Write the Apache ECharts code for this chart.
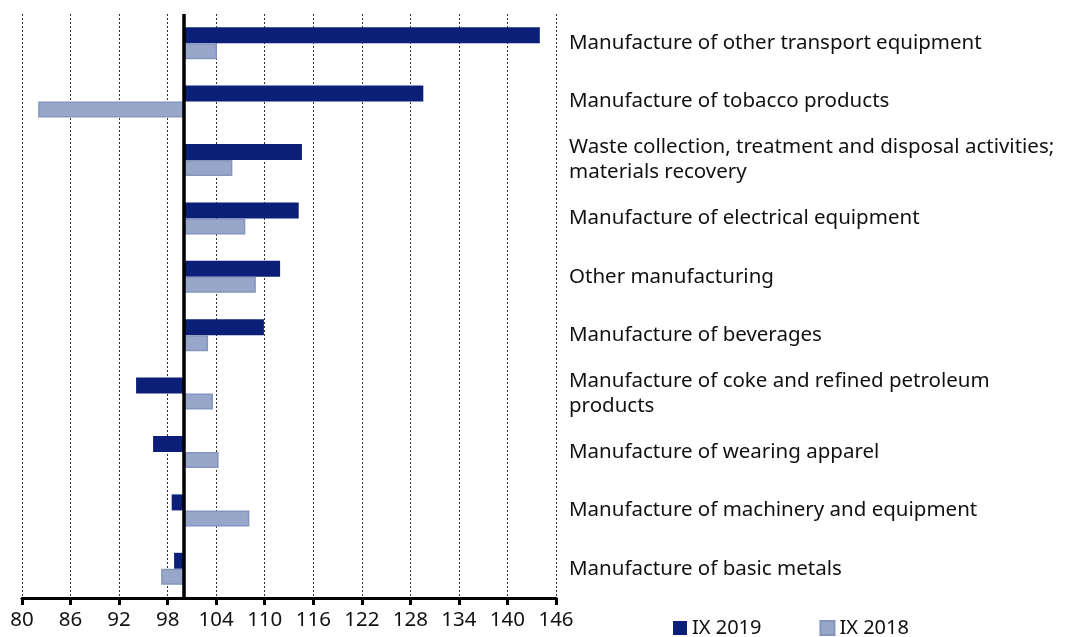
<!DOCTYPE html>
<html><head><meta charset="utf-8">
<script src="https://cdn.jsdelivr.net/npm/echarts@6/dist/echarts.min.js"></script>
<style>html,body{margin:0;padding:0;background:#fff}#c{width:1069px;height:637px}</style>
</head><body><div id="c"></div>
<script>
var categories = [
  "Manufacture of other transport equipment",
  "Manufacture of tobacco products",
  "Waste collection, treatment and disposal activities;\nmaterials recovery",
  "Manufacture of electrical equipment",
  "Other manufacturing",
  "Manufacture of beverages",
  "Manufacture of coke and refined petroleum\nproducts",
  "Manufacture of wearing apparel",
  "Manufacture of machinery and equipment",
  "Manufacture of basic metals"
];
var ix2019 = [144.0, 129.6, 114.6, 114.2, 111.9, 109.9, 94.1, 96.2, 98.5, 98.8];
var ix2018 = [104.1, 82.0, 106.0, 107.6, 108.9, 103.0, 103.6, 104.3, 108.1, 97.2];
var baseValue = 100;
var axisMin = 80, axisMax = 146, axisStep = 6;

var FONT = "Noto Sans";
var chart = echarts.init(document.getElementById('c'), null, {renderer: 'canvas'});
function dev(arr){ return arr.map(function(v){ return +(v - baseValue).toFixed(2); }); }
chart.setOption({
  animation: false,
  textStyle: {fontFamily: FONT},
  grid: {left: 22, right: 1069 - 556, top: 14, bottom: 637 - 598, containLabel: false},
  legend: {
    top: 613, left: 668, itemWidth: 14, itemHeight: 14, itemGap: 58, icon: 'rect',
    textStyle: {fontSize: 20, color: '#111', fontFamily: FONT},
    data: ['IX 2019', 'IX 2018']
  },
  xAxis: {
    type: 'value', min: axisMin - baseValue, max: axisMax - baseValue, interval: axisStep,
    axisLine: {show: true, onZero: false, lineStyle: {color: '#000', width: 3}},
    axisTick: {show: true, length: 7, lineStyle: {color: '#000', width: 3}},
    axisLabel: {fontSize: 20.5, color: '#111', margin: 12, fontFamily: FONT,
      formatter: function(v){ return String(Math.round(v + baseValue)); }},
    splitLine: {show: true, lineStyle: {color: '#333', type: [2, 2], width: 1}}
  },
  yAxis: {
    type: 'category', data: categories, inverse: true, position: 'right',
    axisLine: {show: false, onZero: false}, axisTick: {show: false},
    axisLabel: {align: 'left', margin: 13, fontSize: 20.5, lineHeight: 25, color: '#111', fontFamily: FONT}
  },
  series: [
    {name: 'IX 2019', type: 'bar', data: dev(ix2019), barWidth: 16, barGap: '0%',
     itemStyle: {color: '#0b1f78'},
     markLine: {symbol: 'none', silent: true, label: {show: false},
       lineStyle: {color: '#000', width: 3.5, type: 'solid'},
       data: [{xAxis: 0}]}},
    {name: 'IX 2018', type: 'bar', data: dev(ix2018), barWidth: 16, barGap: '0%',
     itemStyle: {color: '#98a6c9', borderColor: '#8496bd', borderWidth: 1.5}}
  ]
});
</script></body></html>
